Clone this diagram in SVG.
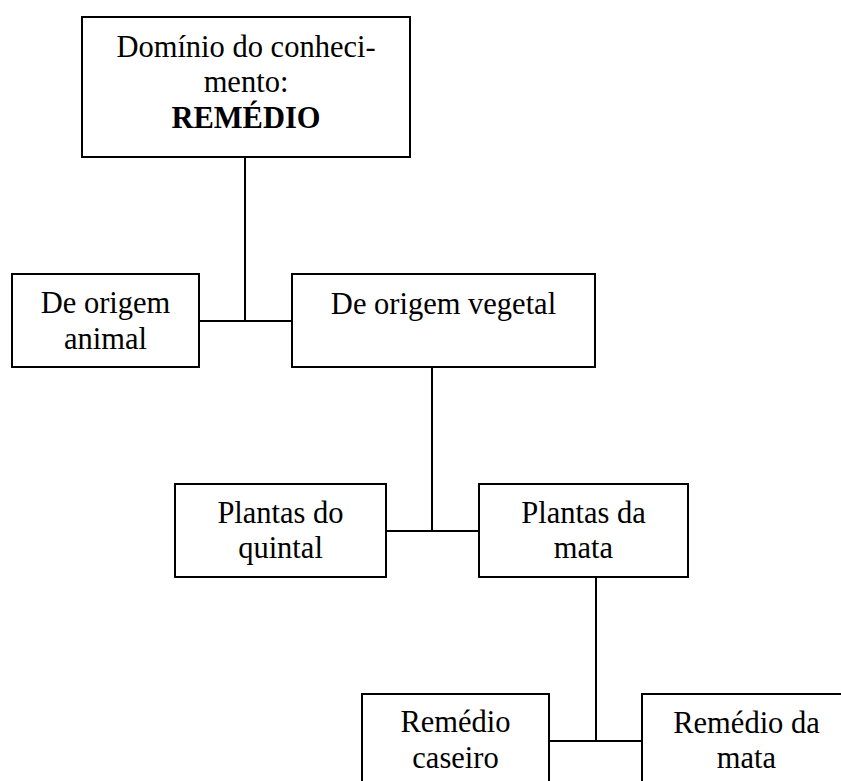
<svg xmlns="http://www.w3.org/2000/svg" width="841" height="781" viewBox="0 0 841 781">
<style>
.box{fill:#fff;stroke:#000;stroke-width:2}
.c{fill:none;stroke:#000;stroke-width:2}
text{font-family:"Liberation Serif","Times New Roman",serif;font-size:30.5px;fill:#000;text-anchor:middle}
.b{font-weight:bold}
</style>
<rect width="841" height="781" fill="#fff"/>
<g id="connectors">
<path class="c" d="M245 157V321M199 321H292"/>
<path class="c" d="M432 367V531M386 531H479"/>
<path class="c" d="M596 577V741M549 741H642"/>
</g>
<g id="dominio">
<rect class="box" x="82" y="17" width="328" height="140"/>
<text x="246" y="57">Domínio do conheci-</text>
<text x="246" y="92">mento:</text>
<text x="246" y="128" class="b">REMÉDIO</text>
</g>
<g id="animal">
<rect class="box" x="12" y="274" width="187" height="93"/>
<text x="105.5" y="313">De origem</text>
<text x="105.5" y="349">animal</text>
</g>
<g id="vegetal">
<rect class="box" x="292" y="274" width="303" height="93"/>
<text x="443.5" y="314">De origem vegetal</text>
</g>
<g id="quintal">
<rect class="box" x="175" y="484" width="211" height="93"/>
<text x="280.5" y="523">Plantas do</text>
<text x="280.5" y="558">quintal</text>
</g>
<g id="mata">
<rect class="box" x="479" y="484" width="209" height="93"/>
<text x="583.5" y="523">Plantas da</text>
<text x="583.5" y="558">mata</text>
</g>
<g id="caseiro">
<rect class="box" x="362" y="694" width="187" height="100"/>
<text x="455.5" y="732">Remédio</text>
<text x="455.5" y="768">caseiro</text>
</g>
<g id="remedio-mata">
<rect class="box" x="642" y="694" width="210" height="100"/>
<text x="746.5" y="733">Remédio da</text>
<text x="746.5" y="768">mata</text>
</g>
</svg>
